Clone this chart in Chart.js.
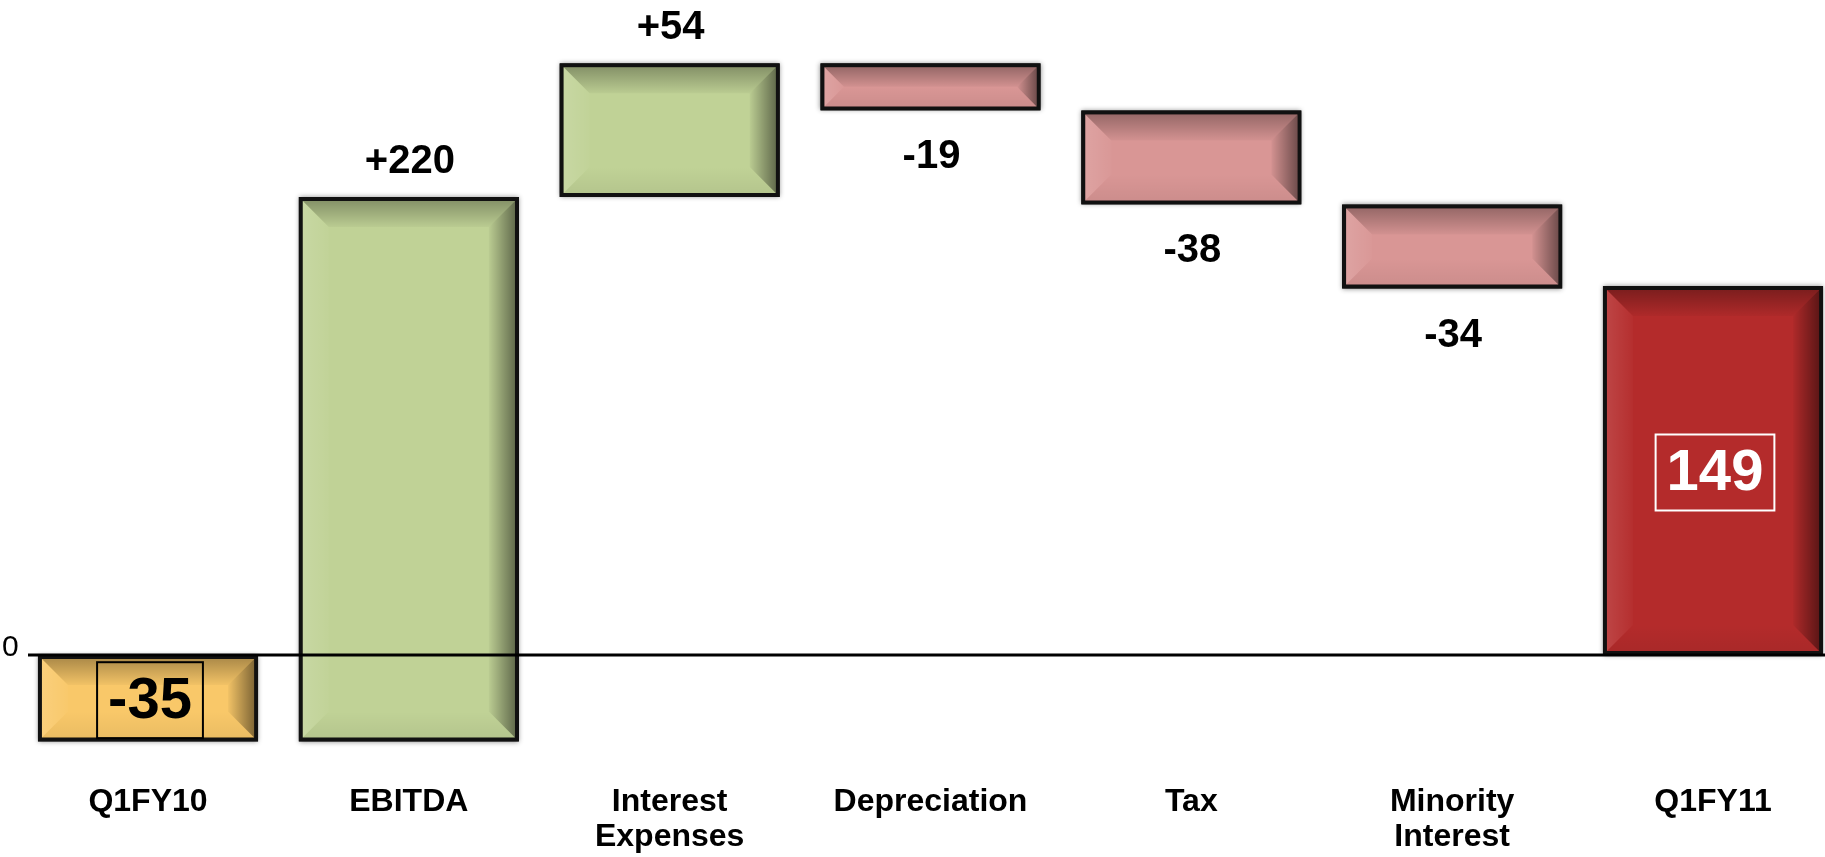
<!DOCTYPE html>
<html>
<head>
<meta charset="utf-8">
<title>Q1FY10 to Q1FY11 bridge</title>
<script src="https://cdn.jsdelivr.net/npm/chart.js@4.4.1/dist/chart.umd.min.js"></script>
<style>
  html, body { margin: 0; padding: 0; background: #ffffff; }
  canvas { display: block; }
</style>
</head>
<body>
<canvas id="puente" width="1825" height="857"></canvas>
<script>
// categorias y variaciones del puente
const categorias = ['Q1FY10', 'EBITDA', ['Interest', 'Expenses'], 'Depreciation', 'Tax', ['Minority', 'Interest'], 'Q1FY11'];
const variaciones = [-35, 220, 54, -19, -38, -34, 149];
// tipo de barra: total (desde cero) o paso intermedio
const tipos = ['total', 'paso', 'paso', 'paso', 'paso', 'paso', 'total'];
const colores = ['#F9C869', '#C0D296', '#C0D296', '#D99695', '#D99695', '#D99695', '#B42B2B'];
const marcoEtiqueta = ['#000000', null, null, null, null, null, '#ffffff'];
const colorEtiqueta = ['#000000', '#000000', '#000000', '#000000', '#000000', '#000000', '#ffffff'];

// barras flotantes [inicio, fin]
let acumulado = 0;
const rangos = variaciones.map(function(v, i) {
    if (tipos[i] === 'total') {
        acumulado = v;
        return [0, v];
    }
    const inicio = acumulado;
    acumulado += v;
    return [inicio, acumulado];
});

const FUENTE = '"Liberation Sans", Arial, Helvetica, sans-serif';

function textoValor(v, i) {
    if (tipos[i] === 'total') return String(v);
    return v > 0 ? '+' + v : String(v);
}

// sombra suave alrededor de cada barra
const sombraBarras = {
    id: 'sombraBarras',
    beforeDatasetsDraw(chart) {
        const ctx = chart.ctx;
        const meta = chart.getDatasetMeta(0);
        ctx.save();
        meta.data.forEach(function(bar) {
            const l = bar.x - bar.width / 2;
            const t = Math.min(bar.y, bar.base);
            const h = Math.abs(bar.base - bar.y);
            ctx.shadowColor = 'rgba(0,0,0,0.45)';
            ctx.shadowBlur = 5;
            ctx.fillStyle = '#000';
            ctx.fillRect(l, t, bar.width, h);
        });
        ctx.restore();
    }
};

// biselado, linea de cero y etiquetas
const acabado = {
    id: 'acabado',
    afterDatasetsDraw(chart) {
        const ctx = chart.ctx;
        const meta = chart.getDatasetMeta(0);
        const yEje = chart.scales.y;
        const borde = 4;

        ctx.save();
        meta.data.forEach(function(bar) {
            const l = bar.x - bar.width / 2 + borde;
            const r = bar.x + bar.width / 2 - borde;
            const t = Math.min(bar.y, bar.base) + borde;
            const b = Math.max(bar.y, bar.base) - borde;
            const bv = Math.min(26, (b - t) / 2, (r - l) / 2);

            // arriba
            let g = ctx.createLinearGradient(0, t, 0, t + bv);
            g.addColorStop(0, 'rgba(0,0,0,0.30)');
            g.addColorStop(1, 'rgba(0,0,0,0.03)');
            ctx.fillStyle = g;
            ctx.beginPath();
            ctx.moveTo(l, t); ctx.lineTo(r, t); ctx.lineTo(r - bv, t + bv); ctx.lineTo(l + bv, t + bv);
            ctx.closePath(); ctx.fill();

            // izquierda
            g = ctx.createLinearGradient(l, 0, l + bv, 0);
            g.addColorStop(0, 'rgba(255,255,255,0.12)');
            g.addColorStop(1, 'rgba(255,255,255,0.02)');
            ctx.fillStyle = g;
            ctx.beginPath();
            ctx.moveTo(l, t); ctx.lineTo(l + bv, t + bv); ctx.lineTo(l + bv, b - bv); ctx.lineTo(l, b);
            ctx.closePath(); ctx.fill();

            // derecha
            g = ctx.createLinearGradient(r - bv, 0, r, 0);
            g.addColorStop(0, 'rgba(0,0,0,0.03)');
            g.addColorStop(1, 'rgba(0,0,0,0.48)');
            ctx.fillStyle = g;
            ctx.beginPath();
            ctx.moveTo(r, t); ctx.lineTo(r - bv, t + bv); ctx.lineTo(r - bv, b - bv); ctx.lineTo(r, b);
            ctx.closePath(); ctx.fill();

            // abajo
            g = ctx.createLinearGradient(0, b, 0, b - bv);
            g.addColorStop(0, 'rgba(0,0,0,0.06)');
            g.addColorStop(1, 'rgba(0,0,0,0.0)');
            ctx.fillStyle = g;
            ctx.beginPath();
            ctx.moveTo(l, b); ctx.lineTo(r, b); ctx.lineTo(r - bv, b - bv); ctx.lineTo(l + bv, b - bv);
            ctx.closePath(); ctx.fill();
        });

        // linea de cero
        const y0 = yEje.getPixelForValue(0);
        ctx.strokeStyle = '#000';
        ctx.lineWidth = 3;
        ctx.beginPath();
        ctx.moveTo(28, y0);
        ctx.lineTo(chart.width, y0);
        ctx.stroke();

        ctx.fillStyle = '#000';
        ctx.font = '30px ' + FUENTE;
        ctx.textAlign = 'left';
        ctx.textBaseline = 'alphabetic';
        ctx.fillText('0', 2, y0 + 1);

        // etiquetas de valor
        meta.data.forEach(function(bar, i) {
            const v = variaciones[i];
            const texto = textoValor(v, i);
            ctx.textAlign = 'center';
            ctx.textBaseline = 'middle';
            if (tipos[i] === 'total') {
                ctx.font = 'bold 58px ' + FUENTE;
                const cy = (bar.y + bar.base) / 2 + 2;
                const ancho = ctx.measureText(texto).width + 22;
                ctx.strokeStyle = marcoEtiqueta[i];
                ctx.lineWidth = 2;
                ctx.strokeRect(bar.x - ancho / 2 + 2, cy - 38, ancho, 76);
                ctx.fillStyle = colorEtiqueta[i];
                ctx.fillText(texto, bar.x + 2, cy + 2);
            } else {
                ctx.font = 'bold 40px ' + FUENTE;
                ctx.fillStyle = colorEtiqueta[i];
                const arriba = Math.min(bar.y, bar.base);
                const abajo = Math.max(bar.y, bar.base);
                const cy = v > 0 ? arriba - 35 : abajo + 47;
                ctx.fillText(texto, bar.x + 1, cy);
            }
        });
        ctx.restore();
    }
};

new Chart(document.getElementById('puente').getContext('2d'), {
    type: 'bar',
    data: {
        labels: categorias,
        datasets: [{
            data: rangos,
            backgroundColor: colores,
            borderColor: '#111111',
            borderWidth: 4,
            borderSkipped: false,
            categoryPercentage: 1,
            barPercentage: 0.844,
            clip: false
        }]
    },
    options: {
        responsive: false,
        devicePixelRatio: 1,
        animation: false,
        layout: { padding: { left: 148, right: 112, top: 0, bottom: 0 } },
        plugins: {
            legend: { display: false },
            tooltip: { enabled: false }
        },
        scales: {
            x: {
                offset: false,
                grid: { display: false, drawTicks: false },
                border: { display: false },
                ticks: {
                    color: '#000',
                    padding: 17,
                    maxRotation: 0,
                    autoSkip: false,
                    font: { family: FUENTE, size: 32, weight: 'bold', lineHeight: 1.1 }
                },
                afterFit: function(scale) { scale.height = 89.5; }
            },
            y: {
                display: false,
                min: -45.5,
                max: 264.6
            }
        }
    },
    plugins: [sombraBarras, acabado]
});
</script>
</body>
</html>
